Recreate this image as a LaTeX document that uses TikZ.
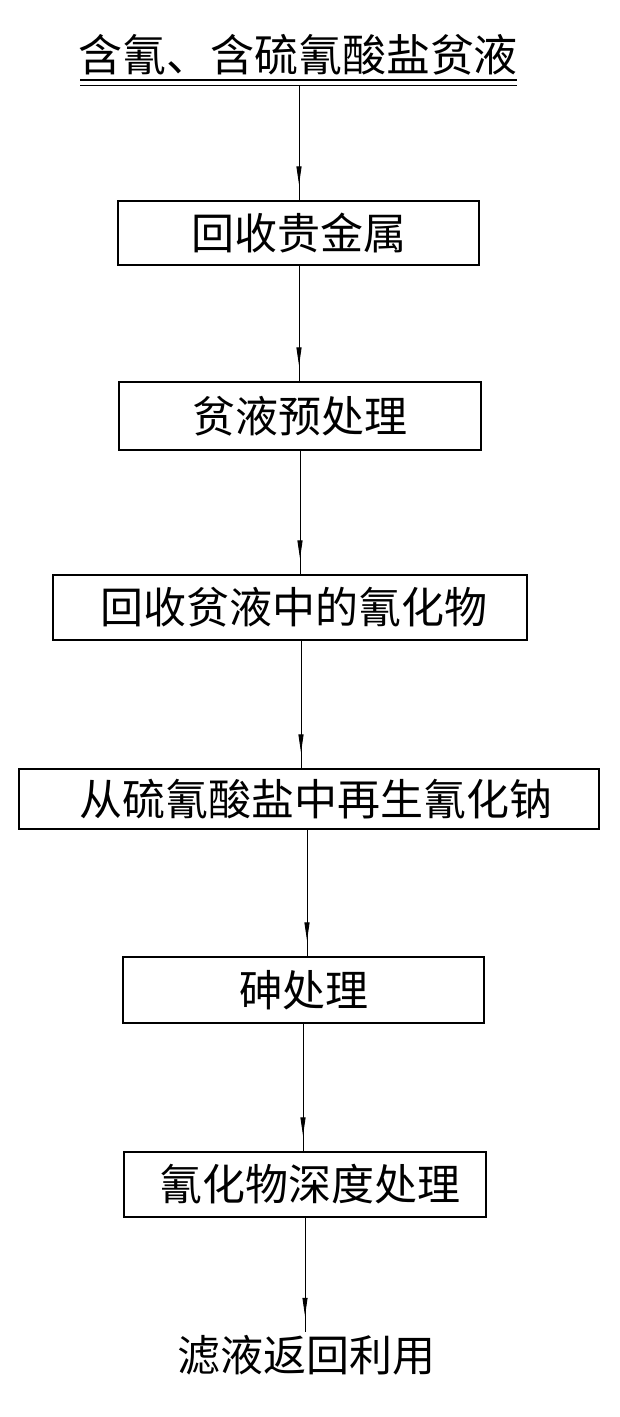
\documentclass[tikz,border=0pt]{standalone}
\usepackage{fontspec}
\newfontfamily\cjk{Noto Sans CJK SC}
\usetikzlibrary{arrows.meta,decorations.markings}
\begin{document}
\begin{tikzpicture}[x=1pt,y=-1pt,
  box/.style={draw, line width=1.1pt, inner sep=0pt, font=\cjk\fontsize{43}{50}\selectfont},
  plain/.style={inner sep=0pt, font=\cjk\fontsize{43}{50}\selectfont},
  flow/.style={line width=0.9pt, postaction={decorate},
    decoration={markings, mark=at position -16pt with {\arrow{Triangle[width=5pt,length=18pt]}}}},
]
\useasboundingbox (0,0) rectangle (620,1417);
\fill[white] (0,0) rectangle (620,1417);

% title with double underline
\node[plain, font=\cjk\fontsize{44}{50}\selectfont] (title) at (298,55) {含氰、含硫氰酸盐贫液};
\draw[line width=1.8pt] (80,80) -- (517,80);
\draw[line width=0.8pt] (80,85) -- (517,85);
\coordinate (ul) at (299,86);

% boxes
\node[box, minimum width=361pt, minimum height=64pt] (b1) at (298.5,233) {回收贵金属};
\node[box, minimum width=362pt, minimum height=68pt] (b2) at (300,416) {贫液预处理\hspace{13pt}};
\node[box, minimum width=474pt, minimum height=65pt] (b3) at (290,607.5) {\hspace{8pt}回收贫液中的氰化物};
\node[box, minimum width=580pt, minimum height=60pt] (b4) at (309,799) {\hspace{14pt}从硫氰酸盐中再生氰化钠};
\node[box, minimum width=361pt, minimum height=66pt] (b5) at (303.5,990) {砷处理};
\node[box, minimum width=362pt, minimum height=65pt] (b6) at (305,1184.5) {\hspace{10pt}氰化物深度处理};
\node[plain] (fin) at (306,1355) {滤液返回利用};

% arrow x positions
\coordinate (x1) at (299,0);
\coordinate (x2) at (299,0);
\coordinate (x3) at (300,0);
\coordinate (x4) at (301,0);
\coordinate (x5) at (307,0);
\coordinate (x6) at (303,0);
\coordinate (x7) at (305,0);

\draw[flow] (ul -| x1) -- (b1.north -| x1);
\draw[flow] (b1.south -| x2) -- (b2.north -| x2);
\draw[flow] (b2.south -| x3) -- (b3.north -| x3);
\draw[flow] (b3.south -| x4) -- (b4.north -| x4);
\draw[flow] (b4.south -| x5) -- (b5.north -| x5);
\draw[flow] (b5.south -| x6) -- (b6.north -| x6);
\draw[flow] (b6.south -| x7) -- ([yshift=3pt]fin.north -| x7);
\end{tikzpicture}
\end{document}
